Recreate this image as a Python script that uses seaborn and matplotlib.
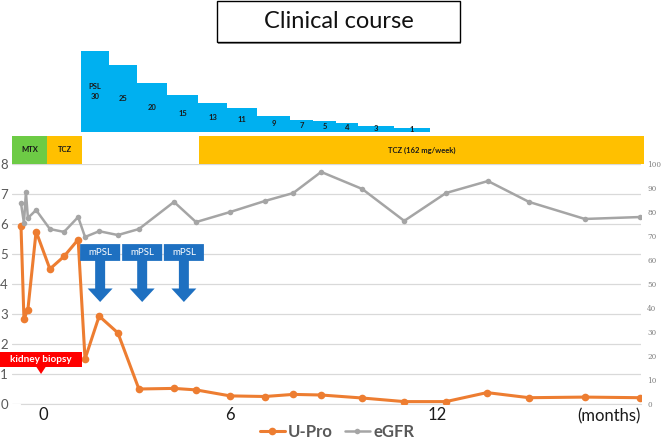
import numpy as np
import matplotlib
matplotlib.use("Agg")
import matplotlib.pyplot as plt
from matplotlib.patches import Rectangle, Polygon
from matplotlib.lines import Line2D
from matplotlib.ticker import FixedLocator
import seaborn as sns

# ==============================================================================
# DADOS
# ==============================================================================
# U-Pro (eixo esquerdo, 0-8)
UPRO_MONTH = [-0.67, -0.58, -0.46, -0.21, 0.21, 0.64, 1.07, 1.28, 1.71, 2.28, 2.92, 3.99,
              4.66, 5.70, 6.76, 7.62, 8.47, 9.72, 11.0, 12.27, 13.52, 14.8, 16.5, 18.18]
UPRO = [5.93, 2.83, 3.15, 5.75, 4.5, 4.92, 5.48, 1.5, 2.93, 2.37, 0.5, 0.52,
        0.47, 0.27, 0.25, 0.32, 0.3, 0.2, 0.08, 0.08, 0.38, 0.21, 0.23, 0.21]

# eGFR (eixo direito, 0-100)
EGFR_MONTH = [-0.67, -0.58, -0.52, -0.46, -0.21, 0.21, 0.64, 1.07, 1.28, 1.71, 2.28, 2.92,
              3.99, 4.66, 5.70, 6.76, 7.62, 8.47, 9.72, 11.0, 12.27, 13.55, 14.8, 16.5, 18.18]
EGFR = [83.6, 75.4, 88.3, 77.5, 80.8, 72.9, 71.7, 77.9, 69.6, 72.0, 70.4, 72.9,
        84.2, 75.8, 80.0, 84.6, 87.9, 96.7, 89.6, 76.3, 87.9, 92.9, 84.2, 77.1, 77.9]

# PSL (degraus)
PSL_DOSE = [30, 25, 20, 15, 13, 11, 9, 7, 5, 4, 3, 1]
PSL_EDGES = [1.16, 2.01, 2.86, 3.78, 4.72, 5.61, 6.52, 7.52, 8.22, 8.93, 9.60, 10.69, 11.79]
PSL_HEIGHT = [80.7, 66.7, 49.0, 36.7, 29.0, 23.4, 15.7, 11.7, 10.2, 8.4, 6.0, 3.7]

# faixas de tratamento
BAND_LABELS = ["MTX", "TCZ", "TCZ (162 mg/week)"]
BAND_START = [-0.94, 0.12, 4.75]
BAND_END = [0.12, 1.19, 18.3]

# pulsos de mPSL e biópsia
MPSL_MONTH = [1.74, 3.02, 4.29]
BIOPSY_MONTH = -0.06

# eixo x
XTICK_POS = [0, 5.7, 12]
XTICK_LABELS = ["0", "6", "12"]

# ==============================================================================
# ESTILO
# ==============================================================================
ORANGE = "#ED7D31"
GRAY = "#A5A5A5"
PSL_BLUE = "#00B0F0"
MPSL_BLUE = "#1E70C1"
BAND_COLORS = ["#6DCB45", "#FFC000", "#FFC000"]
GRID = "#D9D9D9"

sns.set_style("white")
plt.rcParams["font.family"] = ["Lato", "DejaVu Sans"]

W, H = 662, 446
fig = plt.figure(figsize=(W / 100, H / 100), dpi=100)

def px_box(left, top, right, bottom):
    return [left / W, 1 - bottom / H, (right - left) / W, (bottom - top) / H]

ax = fig.add_axes(px_box(12, 164, 641, 404))
ax_top = fig.add_axes(px_box(12, 40, 641, 164), sharex=ax)
ax2 = ax.twinx()

# ------------------------------------------------------------------------------
# Linhas
# ------------------------------------------------------------------------------
sns.lineplot(x=UPRO_MONTH, y=UPRO, ax=ax, color=ORANGE, linewidth=2.2, marker="o",
             markersize=5.5, markeredgewidth=0, legend=False, zorder=3)
sns.lineplot(x=EGFR_MONTH, y=EGFR, ax=ax2, color=GRAY, linewidth=1.8, marker="o",
             markersize=4, markeredgewidth=0, legend=False, zorder=3)

ax.set_xlim(-0.944, 18.21)
ax.set_ylim(0, 8)
ax2.set_ylim(0, 100)

ax.set_yticks(range(0, 9))
ax.yaxis.grid(True, color=GRID, linewidth=0.9)
ax.tick_params(axis="y", length=0, pad=3, labelsize=9.5, labelcolor="#595959")
ax2.set_yticks(range(0, 101, 10))
ax2.tick_params(axis="y", length=0, pad=4.5, labelsize=5.2, labelcolor="#808080")
for lab in ax2.get_yticklabels():
    lab.set_family(["DejaVu Serif"])

ax.set_xticks(XTICK_POS)
ax.set_xticklabels(XTICK_LABELS)
ax.xaxis.set_minor_locator(FixedLocator(np.arange(-0.67, 18.3, 1.846)))
ax.tick_params(axis="x", which="major", length=0, pad=2, labelsize=12, labelcolor="#1a1a1a")
ax.tick_params(axis="x", which="minor", length=3, width=0.8, color=GRID, direction="out")

for a in (ax, ax2):
    for s in a.spines.values():
        s.set_visible(False)
    a.set_xlabel("")
    a.set_ylabel("")
ax.spines["bottom"].set_visible(True)
ax.spines["bottom"].set_color(GRID)
ax.spines["bottom"].set_bounds(-0.67, 18.21)
ax.patch.set_alpha(0)
ax2.patch.set_alpha(0)

ax.text(18.2, -0.05, "(months)", transform=ax.get_xaxis_transform(), ha="right",
        va="center", fontsize=12, color="#1a1a1a")

# ------------------------------------------------------------------------------
# Setas mPSL
# ------------------------------------------------------------------------------
bw, sw, hw = 0.61, 0.152, 0.38
for cx in MPSL_MONTH:
    verts = [(cx - bw, 5.33), (cx + bw, 5.33), (cx + bw, 4.77), (cx + sw, 4.77),
             (cx + sw, 3.85), (cx + hw, 3.85), (cx, 3.4), (cx - hw, 3.85),
             (cx - sw, 3.85), (cx - sw, 4.77), (cx - bw, 4.77)]
    ax.add_patch(Polygon(verts, closed=True, facecolor=MPSL_BLUE, edgecolor="none", zorder=4))
    ax.text(cx, 5.05, "mPSL", ha="center", va="center", color="white", fontsize=7, zorder=5)

# ------------------------------------------------------------------------------
# Biópsia renal
# ------------------------------------------------------------------------------
ax.add_patch(Rectangle((BIOPSY_MONTH - 1.25, 1.233), 2.5, 0.5, facecolor="#FF0000",
                       edgecolor="none", clip_on=False, zorder=4))
ax.add_patch(Polygon([(BIOPSY_MONTH - 0.14, 1.233), (BIOPSY_MONTH + 0.14, 1.233),
                      (BIOPSY_MONTH, 1.0)], closed=True, facecolor="#FF0000",
                     edgecolor="none", clip_on=False, zorder=4))
ax.text(BIOPSY_MONTH, 1.49, "kidney biopsy", ha="center", va="center", color="white",
        fontsize=7.2, fontweight="bold", zorder=5)

# ------------------------------------------------------------------------------
# Painel superior: tratamentos
# ------------------------------------------------------------------------------
ax_top.set_ylim(0, 124)
ax_top.axis("off")
ax_top.patch.set_alpha(0)

band_w = np.array(BAND_END) - np.array(BAND_START)
ax_top.bar(BAND_START, [28] * len(BAND_START), width=band_w, bottom=0, align="edge",
           color=BAND_COLORS, linewidth=0, clip_on=False)
for lab, s, e in zip(BAND_LABELS, BAND_START, BAND_END):
    ax_top.text((s + e) / 2, 14, lab, ha="center", va="center", fontsize=5.5,
                fontweight="bold", color="#1a1a1a")

psl_w = np.diff(PSL_EDGES)
psl_bottom = 32.3
ax_top.bar(PSL_EDGES[:-1], PSL_HEIGHT, width=psl_w, bottom=psl_bottom, align="edge",
           color=PSL_BLUE, linewidth=0, clip_on=False)
for i, (dose, h) in enumerate(zip(PSL_DOSE, PSL_HEIGHT)):
    cx = (PSL_EDGES[i] + PSL_EDGES[i + 1]) / 2
    txt = f"PSL\n{dose}" if i == 0 else str(dose)
    ax_top.text(cx, psl_bottom + h / 2, txt, ha="center", va="center", fontsize=5.5,
                fontweight="bold", color="#1a1a1a", linespacing=1.6)

# ------------------------------------------------------------------------------
# Título em caixa
# ------------------------------------------------------------------------------
tx0, ty0, tx1, ty1 = 217, 1, 460, 42
fig.patches.append(Rectangle(((tx0 + 1) / W, 1 - (ty1 + 2) / H), (tx1 - tx0) / W,
                             (ty1 - ty0) / H, transform=fig.transFigure,
                             facecolor="#8c8c8c", edgecolor="none", zorder=1))
fig.patches.append(Rectangle((tx0 / W, 1 - ty1 / H), (tx1 - tx0) / W, (ty1 - ty0) / H,
                             transform=fig.transFigure, facecolor="white",
                             edgecolor="black", linewidth=1, zorder=2))
fig.text((tx0 + tx1) / 2 / W, 1 - 22 / H, "Clinical course", ha="center", va="center",
         fontsize=17, color="#111111", zorder=3)

# ------------------------------------------------------------------------------
# Legenda
# ------------------------------------------------------------------------------
handles = [Line2D([], [], color=ORANGE, linewidth=2.2, marker="o", markersize=5.5,
                  markeredgewidth=0),
           Line2D([], [], color=GRAY, linewidth=1.8, marker="o", markersize=4,
                  markeredgewidth=0)]
leg = fig.legend(handles, ["U-Pro", "eGFR"], loc="center", ncol=2,
                 bbox_to_anchor=(337 / W, 1 - 432 / H), frameon=False, fontsize=12,
                 handlelength=1.5, handletextpad=0.2, columnspacing=0.7)
for t in leg.get_texts():
    t.set_color("#595959")
    t.set_fontweight("bold")

fig.savefig("out.png", dpi=100)
